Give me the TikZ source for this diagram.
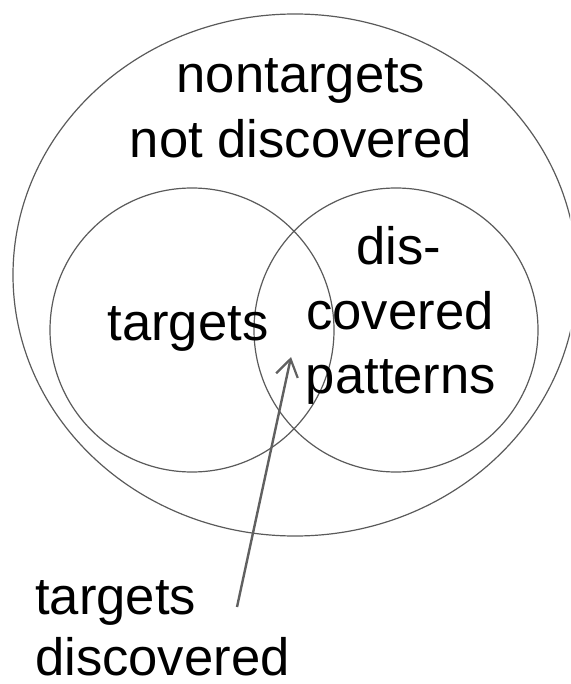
\documentclass[tikz,border=0pt]{standalone}
\usepackage{fontspec}
\setmainfont{Liberation Sans}
\usepackage{tikz}
\definecolor{setline}{HTML}{5A5A5A}
\definecolor{arrowline}{HTML}{606060}
\tikzset{
  setedge/.style={draw=setline, line width=1.2pt},
  pointer/.style={draw=arrowline, line width=2.4pt, -{Straight Barb[length=17pt,width=22pt,line width=2.2pt]}},
  setlabel/.style={anchor=base, inner sep=0pt, font=\fontsize{52.6pt}{65pt}\selectfont},
}
\usetikzlibrary{arrows.meta}
\begin{document}
\begin{tikzpicture}[x=1pt,y=-1pt]
      % Frame of the picture
      \useasboundingbox (0,0) rectangle (570,684);
      \clip (0,0) rectangle (570,684);

      % Universe of patterns
      \draw[setedge] (295,275) ellipse [x radius=282pt, y radius=261pt];
      % Targets and discovered patterns
      \draw[setedge] (192,330) circle [radius=142pt];
      \draw[setedge] (396,330) circle [radius=142pt];

      % ---------- Labels ----------
      \node[setlabel] (nontargets) at (301,93)  {nontargets};
      \node[setlabel] (notdisc)    at (301,158) {not discovered};
      \node[setlabel] (targets)    at (188,340) {targets};
      \node[setlabel] (dis)        at (399,264) {dis-};
      \node[setlabel] (covered)    at (400,329) {covered};
      \node[setlabel] (patterns)   at (401,393) {patterns};
      \node[setlabel, anchor=base west] (tdtop) at (35,614) {targets};
      \node[setlabel, anchor=base west] (tdbot) at (35,675) {discovered};

      % ---------- Pointer into the overlap ----------
      \coordinate (tail) at (237,607);
      \coordinate (tip)  at (291,357);
      \draw[pointer] (tail) -- (tip);
    \end{tikzpicture}
\end{document}
